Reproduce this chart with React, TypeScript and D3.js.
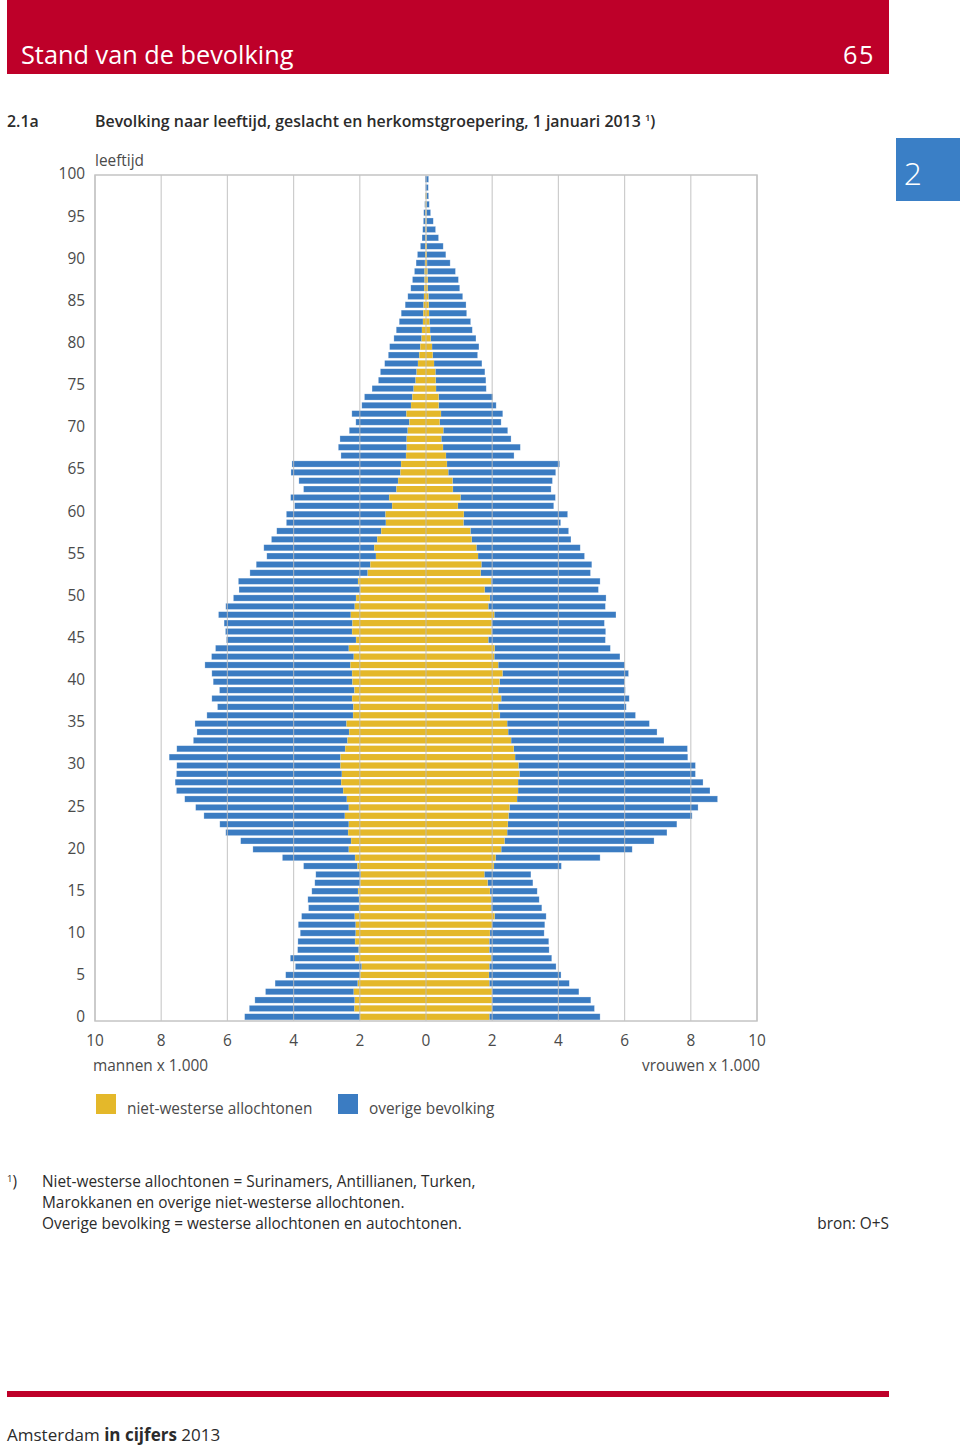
import React, { useEffect, useRef } from 'react';
import * as d3 from 'd3';

// leeftijd 0..100, aantallen x 1.000
const leeftijden = d3.range(0, 101);

const mannenTotaal = [
  5.48, 5.34, 5.17, 4.85, 4.56, 4.24, 3.95, 4.10, 3.88, 3.87,
  3.80, 3.86, 3.76, 3.55, 3.57, 3.45, 3.36, 3.33, 3.70, 4.34,
  5.23, 5.60, 6.05, 6.23, 6.71, 6.96, 7.29, 7.54, 7.58, 7.54,
  7.53, 7.76, 7.53, 7.03, 6.92, 6.98, 6.62, 6.30, 6.47, 6.24,
  6.43, 6.47, 6.68, 6.48, 6.36, 6.03, 6.06, 6.10, 6.27, 6.05,
  5.82, 5.65, 5.67, 5.32, 5.13, 4.81, 4.90, 4.67, 4.51, 4.22,
  4.22, 3.97, 4.09, 3.70, 3.84, 4.08, 4.05, 2.57, 2.65, 2.60,
  2.32, 2.12, 2.24, 1.94, 1.86, 1.63, 1.44, 1.38, 1.25, 1.14,
  1.10, 0.97, 0.90, 0.81, 0.75, 0.63, 0.55, 0.46, 0.41, 0.35,
  0.30, 0.26, 0.17, 0.12, 0.10, 0.08, 0.07, 0.04, 0.02, 0.02, 0.03,
];

const mannenNietWesters = [
  1.99, 2.16, 2.15, 2.18, 2.06, 1.98, 1.94, 2.14, 2.03, 2.14,
  2.12, 2.12, 2.15, 2.02, 2.02, 2.05, 1.98, 1.97, 2.07, 2.14,
  2.33, 2.26, 2.35, 2.33, 2.45, 2.33, 2.39, 2.50, 2.56, 2.54,
  2.58, 2.58, 2.44, 2.37, 2.32, 2.40, 2.20, 2.19, 2.23, 2.16,
  2.22, 2.23, 2.28, 2.18, 2.33, 2.11, 2.23, 2.22, 2.27, 2.15,
  2.11, 1.98, 2.05, 1.76, 1.68, 1.51, 1.56, 1.47, 1.35, 1.21,
  1.22, 1.02, 1.11, 0.89, 0.84, 0.77, 0.75, 0.60, 0.58, 0.58,
  0.55, 0.50, 0.59, 0.45, 0.41, 0.37, 0.31, 0.28, 0.24, 0.20,
  0.17, 0.13, 0.12, 0.09, 0.08, 0.07, 0.06, 0.05, 0.04, 0.04,
  0.03, 0.02, 0.02, 0.01, 0.01, 0.01, 0.01, 0.01, 0.01, 0, 0,
];

const vrouwenTotaal = [
  5.26, 5.09, 4.98, 4.62, 4.33, 4.08, 3.93, 3.80, 3.72, 3.71,
  3.57, 3.59, 3.63, 3.50, 3.42, 3.36, 3.23, 3.17, 4.09, 5.26,
  6.23, 6.89, 7.28, 7.58, 8.04, 8.22, 8.81, 8.58, 8.37, 8.14,
  8.14, 7.91, 7.90, 7.19, 6.98, 6.75, 6.33, 6.05, 6.14, 6.02,
  6.01, 6.12, 6.01, 5.86, 5.57, 5.42, 5.43, 5.39, 5.74, 5.42,
  5.44, 5.21, 5.26, 4.97, 5.01, 4.79, 4.66, 4.38, 4.31, 4.07,
  4.28, 3.86, 3.91, 3.78, 3.82, 3.92, 4.04, 2.66, 2.85, 2.57,
  2.47, 2.27, 2.32, 2.12, 2.02, 1.82, 1.81, 1.78, 1.69, 1.56,
  1.60, 1.51, 1.40, 1.35, 1.23, 1.21, 1.11, 1.02, 0.98, 0.89,
  0.73, 0.60, 0.52, 0.38, 0.29, 0.22, 0.14, 0.10, 0.08, 0.07, 0.08,
];

const vrouwenNietWesters = [
  1.91, 1.99, 1.99, 1.99, 1.91, 1.90, 1.91, 1.97, 1.91, 1.91,
  1.93, 1.99, 2.07, 1.97, 1.97, 1.93, 1.86, 1.76, 2.05, 2.10,
  2.27, 2.37, 2.45, 2.47, 2.49, 2.52, 2.75, 2.78, 2.78, 2.82,
  2.79, 2.69, 2.65, 2.57, 2.48, 2.45, 2.23, 2.18, 2.27, 2.18,
  2.22, 2.31, 2.18, 2.06, 2.07, 1.88, 1.98, 1.98, 2.06, 1.88,
  1.93, 1.77, 1.97, 1.65, 1.67, 1.57, 1.52, 1.38, 1.34, 1.13,
  1.14, 0.96, 1.04, 0.81, 0.80, 0.67, 0.63, 0.60, 0.51, 0.46,
  0.52, 0.41, 0.45, 0.38, 0.38, 0.30, 0.29, 0.28, 0.24, 0.20,
  0.18, 0.14, 0.12, 0.10, 0.09, 0.08, 0.07, 0.05, 0.05, 0.04,
  0.03, 0.02, 0.02, 0.01, 0.01, 0.01, 0.01, 0.01, 0.01, 0, 0,
];

const xTicks = [-10, -8, -6, -4, -2, 0, 2, 4, 6, 8, 10];
const yTicks = d3.range(0, 101, 5);

const legendItems = [
  { label: 'niet-westerse allochtonen', color: '#e4b82a' },
  { label: 'overige bevolking', color: '#3b7cc2' },
];

const footnoteLines = [
  'Niet-westerse allochtonen = Surinamers, Antillianen, Turken,',
  'Marokkanen en overige niet-westerse allochtonen.',
  'Overige bevolking = westerse allochtonen en autochtonen.',
];

const App: React.FC = () => {
  const svgRef = useRef<SVGSVGElement | null>(null);

  useEffect(() => {
    if (!svgRef.current) return;
    const svg = d3.select(svgRef.current);
    svg.selectAll('*').remove();

    const font = '"Open Sans", Lato, sans-serif';
    const textColor = '#2b2b2b';
    const axisColor = '#4a4a4a';
    const red = '#be0029';
    const yellow = legendItems[0].color;
    const blue = legendItems[1].color;
    const fs = '15.4px';

    // Page header
    svg.append('rect').attr('x', 7).attr('y', 0).attr('width', 882).attr('height', 74).attr('fill', red);
    svg.append('text').attr('x', 21).attr('y', 64).attr('fill', '#fff')
      .style('font-family', font).style('font-size', '25.3px').style('font-weight', 500)
      .text('Stand van de bevolking');
    svg.append('text').attr('x', 875).attr('y', 64).attr('fill', '#fff').attr('text-anchor', 'end')
      .style('font-family', font).style('font-size', '25.3px').style('font-weight', 500)
      .style('letter-spacing', '1.5px').text('65');

    // Chapter tab
    svg.append('rect').attr('x', 896).attr('y', 138).attr('width', 64).attr('height', 63).attr('fill', '#3a7fc6');
    svg.append('text').attr('x', 913).attr('y', 185).attr('fill', '#fff').attr('text-anchor', 'middle')
      .style('font-family', font).style('font-size', '32px').style('font-weight', 300).text('2');

    // Chart title
    svg.append('text').attr('x', 7).attr('y', 127).attr('fill', textColor)
      .style('font-family', font).style('font-size', '15.9px').style('font-weight', 600).text('2.1a');
    const title = svg.append('text').attr('x', 95).attr('y', 127).attr('fill', textColor)
      .style('font-family', font).style('font-size', '15.9px').style('font-weight', 600);
    title.append('tspan').text('Bevolking naar leeftijd, geslacht en herkomstgroepering, 1 januari 2013 ');
    title.append('tspan').attr('dy', -6).style('font-size', '9.5px').text('1');
    title.append('tspan').attr('dy', 6).text(')');

    // Scales
    const plot = { left: 95, right: 757, top: 175, bottom: 1021 };
    const x = d3.scaleLinear().domain([-10, 10]).range([plot.left, plot.right]);
    const y = d3.scaleBand<number>()
      .domain([...leeftijden].reverse())
      .range([plot.top, plot.bottom])
      .paddingInner(0.26)
      .paddingOuter(0.13);
    const yLabel = d3.scaleLinear().domain([0, 100]).range([1017, 174]);

    const g = svg.append('g');

    // Bars: niet-westerse at the centre, overige bevolking outside
    const rows = leeftijden.map((a, i) => ({
      age: a,
      mTot: mannenTotaal[i],
      mNW: mannenNietWesters[i],
      vTot: vrouwenTotaal[i],
      vNW: vrouwenNietWesters[i],
    }));

    const bh = y.bandwidth();
    const barStroke = 'rgba(255,255,255,0.45)';

    // men overige
    g.selectAll('.m-ov').data(rows).enter().append('rect')
      .attr('x', d => x(-d.mTot)).attr('y', d => y(d.age)!)
      .attr('width', d => x(-d.mNW) - x(-d.mTot)).attr('height', bh)
      .attr('fill', blue).attr('stroke', barStroke).attr('stroke-width', 0.6);
    // women overige
    g.selectAll('.v-ov').data(rows).enter().append('rect')
      .attr('x', d => x(d.vNW)).attr('y', d => y(d.age)!)
      .attr('width', d => x(d.vTot) - x(d.vNW)).attr('height', bh)
      .attr('fill', blue).attr('stroke', barStroke).attr('stroke-width', 0.6);
    // men niet-westers
    g.selectAll('.m-nw').data(rows).enter().append('rect')
      .attr('x', d => x(-d.mNW)).attr('y', d => y(d.age)!)
      .attr('width', d => x(0) - x(-d.mNW)).attr('height', bh)
      .attr('fill', yellow);
    // women niet-westers
    g.selectAll('.v-nw').data(rows).enter().append('rect')
      .attr('x', x(0)).attr('y', d => y(d.age)!)
      .attr('width', d => x(d.vNW) - x(0)).attr('height', bh)
      .attr('fill', yellow);

    // Gridlines and frame
    g.selectAll('.grid').data(xTicks).enter().append('line')
      .attr('x1', d => x(d)).attr('x2', d => x(d))
      .attr('y1', plot.top).attr('y2', plot.bottom)
      .attr('stroke', '#bdbdbd').attr('stroke-width', 1.2).attr('opacity', 0.75);
    g.append('rect').attr('x', plot.left).attr('y', plot.top)
      .attr('width', plot.right - plot.left).attr('height', plot.bottom - plot.top)
      .attr('fill', 'none').attr('stroke', '#c4c4c4').attr('stroke-width', 1.5);

    // Y labels
    g.selectAll('.ylab').data(yTicks).enter().append('text')
      .attr('x', 85).attr('y', d => yLabel(d)).attr('dy', '0.35em').attr('text-anchor', 'end')
      .attr('fill', axisColor).style('font-family', font).style('font-size', fs)
      .text(d => d);
    g.append('text').attr('x', 95).attr('y', 166).attr('fill', axisColor)
      .style('font-family', font).style('font-size', fs).text('leeftijd');

    // X labels
    g.selectAll('.xlab').data(xTicks).enter().append('text')
      .attr('x', d => x(d)).attr('y', 1046).attr('text-anchor', 'middle')
      .attr('fill', axisColor).style('font-family', font).style('font-size', fs)
      .text(d => Math.abs(d));
    g.append('text').attr('x', 93).attr('y', 1071).attr('fill', axisColor)
      .style('font-family', font).style('font-size', fs).text('mannen x 1.000');
    g.append('text').attr('x', 760).attr('y', 1071).attr('fill', axisColor).attr('text-anchor', 'end')
      .style('font-family', font).style('font-size', fs).text('vrouwen x 1.000');

    // Legend
    const legendX = [96, 338];
    legendItems.forEach((item, i) => {
      g.append('rect').attr('x', legendX[i]).attr('y', 1094).attr('width', 20).attr('height', 20)
        .attr('fill', item.color);
      g.append('text').attr('x', legendX[i] + 31).attr('y', 1114).attr('fill', axisColor)
        .style('font-family', font).style('font-size', fs).text(item.label);
    });

    // Footnote
    const fn = svg.append('text').attr('x', 7).attr('y', 1187).attr('fill', textColor)
      .style('font-family', font).style('font-size', fs);
    fn.append('tspan').attr('dy', -5).style('font-size', '9.5px').text('1');
    fn.append('tspan').attr('dy', 5).text(')');
    footnoteLines.forEach((line, i) => {
      svg.append('text').attr('x', 42).attr('y', 1187 + i * 21).attr('fill', textColor)
        .style('font-family', font).style('font-size', fs).text(line);
    });
    svg.append('text').attr('x', 889).attr('y', 1229).attr('text-anchor', 'end').attr('fill', textColor)
      .style('font-family', font).style('font-size', fs).text('bron: O+S');

    // Page footer
    svg.append('rect').attr('x', 7).attr('y', 1391).attr('width', 882).attr('height', 6).attr('fill', red);
    const foot = svg.append('text').attr('x', 7).attr('y', 1441).attr('fill', textColor)
      .style('font-family', font).style('font-size', '17px');
    foot.append('tspan').text('Amsterdam ');
    foot.append('tspan').style('font-weight', 'bold').text('in cijfers');
    foot.append('tspan').text(' 2013');
  }, []);

  return (
    <svg
      ref={svgRef}
      width={960}
      height={1445}
      style={{ position: 'absolute', left: 0, top: 0, background: '#fff' }}
    />
  );
};

export default App;
